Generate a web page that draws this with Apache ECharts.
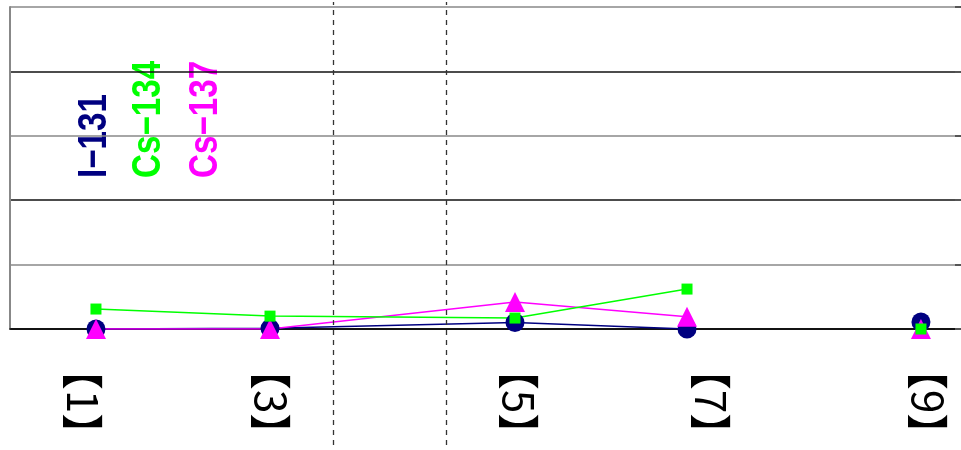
<!DOCTYPE html>
<html>
<head>
<meta charset="utf-8">
<script src="https://cdn.jsdelivr.net/npm/echarts@6/dist/echarts.min.js"></script>
<style>
  html, body { margin: 0; padding: 0; background: #fff; }
  #chart { width: 961px; height: 450px; }
</style>
</head>
<body>
<div id="chart"></div>
<script>
// Sampling points along the horizontal axis (0-100 span of the plot width)
const stationLabels = ['【1】', '【3】', '【5】', '【7】', '【9】'];
const stationPos = [9.04, 27.34, 53.10, 71.19, 95.79];
const labelPos = [7.62, 27.41, 53.52, 73.71, 96.48];
// Vertical dashed separators
const dividerPos = [33.96, 45.85];
// Measured values per nuclide
const i131 = [0, 0.1, 1.0, 0, 1.1];
const cs134 = [3.1, 2.0, 1.7, 6.2, 0];
const cs137 = [0, 0, 4.2, 1.9, 0];
// Points that are joined by a line; the last point stands alone
const segments = [[0, 1, 2, 3], [4]];

const nuclides = [
  { name: 'I−131', values: i131, color: '#000080', symbol: 'circle', size: 19 },
  { name: 'Cs−137', values: cs137, color: '#ff00ff', symbol: 'triangle', size: 20 },
  { name: 'Cs−134', values: cs134, color: '#00ff00', symbol: 'rect', size: 11 }
];

const series = [];
nuclides.forEach(function (n) {
  segments.forEach(function (seg) {
    series.push({
      name: n.name,
      type: 'line',
      xAxisIndex: 0,
      yAxisIndex: 0,
      symbol: n.symbol,
      symbolSize: n.size,
      showAllSymbol: true,
      animation: false,
      lineStyle: { color: n.color, width: 1.5 },
      itemStyle: { color: n.color },
      data: seg.map(function (i) { return [stationPos[i], n.values[i]]; })
    });
  });
});

// Separators span the full height, so they live on an overlay grid
series.push({
  type: 'line',
  xAxisIndex: 1,
  yAxisIndex: 2,
  data: [],
  animation: false,
  markLine: {
    silent: true,
    symbol: 'none',
    animation: false,
    label: { show: false },
    lineStyle: { color: '#333', width: 1.3, type: [5, 5] },
    data: dividerPos.map(function (v) { return { xAxis: v }; })
  }
});

const legendX = [95, 149, 206];
const legendTexts = [
  { text: 'I−131', color: '#000080' },
  { text: 'Cs−134', color: '#00ff00' },
  { text: 'Cs−137', color: '#ff00ff' }
];

const chart = echarts.init(document.getElementById('chart'), null, { renderer: 'canvas' });
chart.setOption({
  backgroundColor: '#fff',
  animation: false,
  grid: [
    { left: 10, right: 0, top: 7, bottom: 121, outerBoundsMode: 'none', containLabel: false },
    { left: 10, right: 0, top: 2, bottom: 5, outerBoundsMode: 'none', containLabel: false }
  ],
  xAxis: [
    {
      type: 'value',
      gridIndex: 0,
      min: 0,
      max: 100,
      splitLine: { show: false },
      axisTick: { show: false },
      axisLine: { show: true, lineStyle: { color: '#000', width: 1.5 } },
      axisLabel: {
        customValues: labelPos,
        rotate: -90,
        margin: 19,
        color: '#000',
        fontSize: 42,
        fontFamily: 'Noto Sans CJK JP',
        formatter: function (v) {
          let best = 0;
          labelPos.forEach(function (p, i) {
            if (Math.abs(p - v) < Math.abs(labelPos[best] - v)) best = i;
          });
          return stationLabels[best];
        }
      }
    },
    { type: 'value', gridIndex: 1, min: 0, max: 100, show: false }
  ],
  yAxis: [
    {
      type: 'value',
      gridIndex: 0,
      min: 0,
      max: 50,
      interval: 10,
      axisLabel: { show: false },
      axisTick: { show: false },
      axisLine: { show: true, lineStyle: { color: '#888', width: 2 } },
      splitLine: { show: true, lineStyle: { color: ['#111', '#888'], width: 1.5 } }
    },
    {
      type: 'value',
      gridIndex: 0,
      position: 'right',
      min: 0,
      max: 50,
      interval: 10,
      axisLabel: { show: false },
      axisLine: { show: false },
      splitLine: { show: false },
      axisTick: { show: true, inside: true, length: 6, lineStyle: { color: '#555', width: 2 } }
    },
    { type: 'value', gridIndex: 1, min: 0, max: 1, show: false }
  ],
  graphic: legendTexts.map(function (t, i) {
    return {
      type: 'text',
      x: legendX[i],
      y: 178,
      rotation: Math.PI / 2,
      scaleX: 0.83,
      style: {
        text: t.text,
        fill: t.color,
        font: 'bold 40px "Liberation Sans", sans-serif',
        textAlign: 'left',
        textVerticalAlign: 'middle'
      }
    };
  }),
  series: series
});
</script>
</body>
</html>
